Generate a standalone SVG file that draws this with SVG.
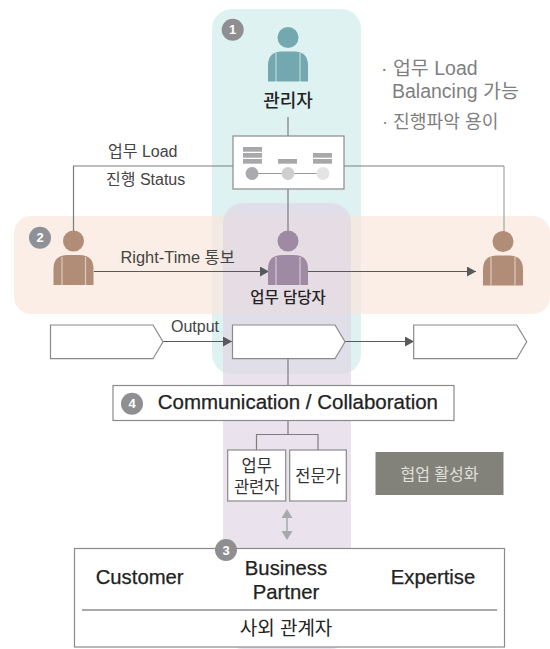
<svg xmlns="http://www.w3.org/2000/svg" width="550" height="649" viewBox="0 0 550 649">
<style>
text{font-family:"Liberation Sans","Noto Sans CJK KR",sans-serif}
.m{text-anchor:middle}
.dk{fill:#222}
.lb{fill:#444;font-size:16px}
.note{fill:#7f7f7f;font-size:19.500px}
.cb{fill:#fff;stroke:#8a8a8a;stroke-width:1.2}
.ln{fill:none;stroke:#7d7d7d;stroke-width:1.2}
.ar{fill:none;stroke:#58595b;stroke-width:1.2;marker-end:url(#a)}
.num{fill:#fff;font-size:13px;font-weight:700;text-anchor:middle}
.wl{stroke:#fff;stroke-opacity:.55;stroke-width:1.2}
.bar{fill:#a8a8ab}
</style>
<defs>
<marker id="a" markerUnits="userSpaceOnUse" markerWidth="9" markerHeight="10" refX="9" refY="5" orient="auto"><path d="M0 0L9 5L0 10Z" fill="#58595b"/></marker>
<path id="body" d="M-20 44V28Q-20 14 -6 14H6Q20 14 20 28V44Z"/>
</defs>
<g id="panels">
<rect x="212" y="9" width="149" height="365" rx="20" fill="#dff2f2"/>
<rect x="14" y="216" width="536" height="98" rx="17" fill="#f9e7db" fill-opacity=".7"/>
<rect x="223" y="203" width="128" height="446" rx="20" fill="#e0d6e4" fill-opacity=".68"/>
</g>
<g id="connectors">
<path class="ln" d="M288 117V136M288 189V232M233 166H73.500V232"/>
<path class="ln" d="M344 166H504"/>
<path d="M504 166V232" fill="none" stroke="#a5a5a5" stroke-width="1.2"/>
<path class="ar" d="M94 271.500H269"/>
<path class="ar" d="M308 271.500H476"/>
<path class="ar" d="M163 341.500H232"/>
<path class="ar" d="M345 341.500H414"/>
<path class="ln" d="M288 358V385M288 420V434.500M256.500 450V434.500H318V450"/>
<path d="M287 516V533" stroke="#a7a9ac" stroke-width="1.500" fill="none"/>
<path d="M287 509L292.500 518H281.500ZM287 540L292.500 531H281.500Z" fill="#a7a9ac"/>
</g>
<g id="manager">
<circle cx="288" cy="37.500" r="10.500" fill="#73a8b0"/>
<use href="#body" x="288" y="37.500" fill="#73a8b0"/>
<path class="wl" d="M276 53V82M300 53V82"/>
<text class="m dk" x="288" y="107" font-size="18" font-weight="500">관리자</text>
</g>
<g id="badge1"><circle cx="232.700" cy="29.700" r="11" fill="#8f8f92"/><text class="num" x="232.700" y="34.300">1</text></g>
<g id="notes">
<text class="note" x="381" y="75">· 업무 Load</text>
<text class="note" x="392" y="98">Balancing 가능</text>
<text class="note" x="382" y="128" style="font-size:18.200px">· 진행파악 용이</text>
</g>
<g id="board">
<rect class="cb" x="233" y="136" width="111" height="53"/>
<rect class="bar" x="243" y="147" width="19" height="4.700"/><rect class="bar" x="243" y="153" width="19" height="4.700"/><rect class="bar" x="243" y="159" width="19" height="4.700"/>
<rect class="bar" x="278" y="159" width="19" height="4.700"/>
<rect class="bar" x="313" y="153" width="19" height="4.700"/><rect class="bar" x="313" y="159" width="19" height="4.700"/>
<path d="M252 173.500H323" stroke="#999" stroke-width="1"/>
<circle cx="252" cy="173.500" r="6.500" fill="#aaa9ad"/><circle cx="288" cy="173.500" r="6.500" fill="#cfcfd1"/><circle cx="323" cy="173.500" r="6.500" fill="#e4e4e6"/>
</g>
<g id="labels">
<text class="lb" x="108" y="157">업무 Load</text>
<text class="lb" x="106" y="185">진행 Status</text>
<text class="lb" x="120.500" y="263" style="font-size:16.400px">Right-Time 통보</text>
<text class="lb" x="171" y="331.500">Output</text>
</g>
<g id="badge2"><circle cx="40" cy="237.700" r="11" fill="#8e9298"/><text class="num" x="40" y="242.300">2</text></g>
<g id="person-left">
<circle cx="73.500" cy="241" r="10.500" fill="#b18c76"/>
<use href="#body" x="73.500" y="241" fill="#b18c76"/>
<path class="wl" d="M62 257V285M85.500 257V285"/>
</g>
<g id="person-mid">
<circle cx="288" cy="241" r="10.500" fill="#9f8aa3"/>
<use href="#body" x="288" y="241" fill="#9f8aa3"/>
<path class="wl" d="M276 257V285M300 257V285"/>
<text class="m dk" x="288" y="303" font-size="15.500" font-weight="500">업무 담당자</text>
</g>
<g id="person-right">
<circle cx="503" cy="241.500" r="10.500" fill="#b18c76"/>
<use href="#body" x="503" y="241.500" fill="#b18c76"/>
<path class="wl" d="M491 257V285M515 257V285"/>
</g>
<g id="step1"><path class="cb" d="M50.500 325H153L163 341.800L153 358.700H50.500Z"/></g>
<g id="step2"><path class="cb" d="M232.500 325H335L345 341.800L335 358.700H232.500Z"/></g>
<g id="step3"><path class="cb" d="M413.700 325H516.700L526.700 341.800L516.700 358.700H413.700Z"/></g>
<g id="comm">
<rect class="cb" x="113" y="385.500" width="341" height="35"/>
<circle cx="132" cy="403.700" r="11" fill="#8f8f92"/><text class="num" x="132" y="408.300">4</text>
<text class="dk" x="157.700" y="408.500" font-size="20.500" font-weight="500" stroke="#222" stroke-width=".25">Communication / Collaboration</text>
</g>
<g id="rel">
<rect class="cb" x="227.700" y="450" width="58" height="51"/>
<text class="m" fill="#333" x="256.700" y="472" font-size="16.500">업무</text>
<text class="m" fill="#333" x="256.700" y="493" font-size="16.500">관련자</text>
</g>
<g id="expert">
<rect class="cb" x="289.700" y="450" width="56.600" height="51"/>
<text class="m" fill="#333" x="318" y="482" font-size="16.500">전문가</text>
</g>
<g id="collab">
<rect x="375.500" y="452" width="128" height="43" fill="#82827a"/>
<text class="m" fill="#e0e0dc" x="439.500" y="479.500" font-size="16">협업 활성화</text>
</g>
<g id="external">
<rect class="cb" x="74.500" y="548.500" width="430" height="98.500"/>
<path d="M82 610H497" stroke="#555" stroke-width="1.200"/>
<text class="dk" x="95.700" y="583.500" font-size="20.300" stroke="#222" stroke-width=".25">Customer</text>
<text class="m dk" x="286" y="575" font-size="20.300" stroke="#222" stroke-width=".25">Business</text>
<text class="m dk" x="286" y="599" font-size="20.300" stroke="#222" stroke-width=".25">Partner</text>
<text class="m dk" x="433" y="583.500" font-size="20.300" stroke="#222" stroke-width=".25">Expertise</text>
<text class="m dk" x="286" y="635" font-size="19">사외 관계자</text>
</g>
<g id="badge3"><circle cx="226" cy="550" r="11" fill="#8f8f92"/><text class="num" x="226" y="554.600">3</text></g>
</svg>
